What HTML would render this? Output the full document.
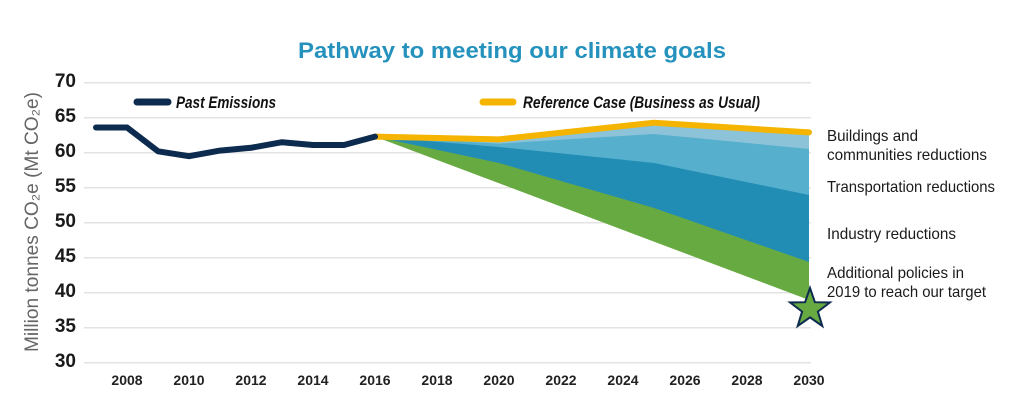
<!DOCTYPE html>
<html><head><meta charset="utf-8"><style>
body{margin:0;background:#fff;}
svg text{font-family:"Liberation Sans Narrow","Liberation Sans",sans-serif;}
</style></head><body>
<svg width="1024" height="408" viewBox="0 0 1024 408" xmlns="http://www.w3.org/2000/svg">
<text x="512" y="58" text-anchor="middle" font-size="22" font-weight="bold" fill="#2592bd" textLength="428" lengthAdjust="spacingAndGlyphs">Pathway to meeting our climate goals</text>
<g stroke="#e3e3e3" stroke-width="1.5">
<line x1="84" x2="811" y1="82.7" y2="82.7"/><line x1="84" x2="811" y1="117.7" y2="117.7"/><line x1="84" x2="811" y1="152.7" y2="152.7"/><line x1="84" x2="811" y1="187.7" y2="187.7"/><line x1="84" x2="811" y1="222.7" y2="222.7"/><line x1="84" x2="811" y1="257.7" y2="257.7"/><line x1="84" x2="811" y1="292.7" y2="292.7"/><line x1="84" x2="811" y1="327.7" y2="327.7"/><line x1="84" x2="811" y1="362.7" y2="362.7"/>
</g>
<g font-size="19" font-weight="bold" fill="#1a1a1a" text-anchor="end" style="font-family:'Liberation Sans',sans-serif">
<text x="76" y="87">70</text><text x="76" y="122">65</text><text x="76" y="157">60</text><text x="76" y="192">55</text><text x="76" y="227">50</text><text x="76" y="262">45</text><text x="76" y="297">40</text><text x="76" y="332">35</text><text x="76" y="367">30</text>
</g>
<text transform="translate(38,222) rotate(-90)" text-anchor="middle" font-size="19" fill="#666" textLength="260" lengthAdjust="spacingAndGlyphs">Million tonnes CO₂e (Mt CO₂e)</text>
<g font-size="14" fill="#222" font-weight="bold" text-anchor="middle">
<text x="127" y="385">2008</text><text x="189" y="385">2010</text><text x="251" y="385">2012</text><text x="313" y="385">2014</text><text x="375" y="385">2016</text><text x="437" y="385">2018</text><text x="499" y="385">2020</text><text x="561" y="385">2022</text><text x="623" y="385">2024</text><text x="685" y="385">2026</text><text x="747" y="385">2028</text><text x="809" y="385">2030</text>
</g>
<polygon fill="#68aa42" points="375,136.6 499,139.4 654,122.7 809,132.4 809,300 375,136.6"/>
<polygon fill="#218db4" points="375,136.6 499,139.4 654,122.7 809,132.4 809,262 654,208 499,163"/>
<polygon fill="#56afcd" points="375,136.6 499,139.4 654,122.7 809,132.4 809,195 654,163 499,147"/>
<polygon fill="#8cc3d9" points="375,136.6 499,139.4 654,122.7 809,132.4 809,149 654,134 499,143.6"/>
<polyline fill="none" stroke="#f5b400" stroke-width="6" stroke-linejoin="round" stroke-linecap="round" points="375,136.6 499,139.4 654,122.7 809,132.4"/>
<polyline fill="none" stroke="#0d2b4e" stroke-width="6" stroke-linejoin="round" stroke-linecap="round" points="96,127.5 127,127.5 158,151.3 189,156.2 220,150.6 251,147.8 282,142.2 313,145 344,145 375,136.6"/>
<polygon fill="#68aa42" stroke="#0d2b4e" stroke-width="2" points="810,288 814.9,302.2 829.9,302.5 817.9,311.6 822.3,326 810,317.4 797.7,326 802.1,311.6 790.1,302.5 805.1,302.2"/>
<line x1="137" y1="102" x2="168" y2="102" stroke="#0d2b4e" stroke-width="7" stroke-linecap="round"/>
<text x="176" y="108" font-size="17" font-style="italic" font-weight="bold" fill="#111" textLength="100" lengthAdjust="spacingAndGlyphs">Past Emissions</text>
<line x1="483" y1="102" x2="513" y2="102" stroke="#f5b400" stroke-width="7" stroke-linecap="round"/>
<text x="523" y="108" font-size="17" font-style="italic" font-weight="bold" fill="#111" textLength="237" lengthAdjust="spacingAndGlyphs">Reference Case (Business as Usual)</text>
<g font-size="16" fill="#1a1a1a">
<text x="827" y="141" textLength="91" lengthAdjust="spacingAndGlyphs">Buildings and</text>
<text x="827" y="160" textLength="160" lengthAdjust="spacingAndGlyphs">communities reductions</text>
<text x="827" y="192" textLength="168" lengthAdjust="spacingAndGlyphs">Transportation reductions</text>
<text x="827" y="239" textLength="129" lengthAdjust="spacingAndGlyphs">Industry reductions</text>
<text x="827" y="278" textLength="137" lengthAdjust="spacingAndGlyphs">Additional policies in</text>
<text x="827" y="297" textLength="159" lengthAdjust="spacingAndGlyphs">2019 to reach our target</text>
</g>
</svg>
</body></html>
